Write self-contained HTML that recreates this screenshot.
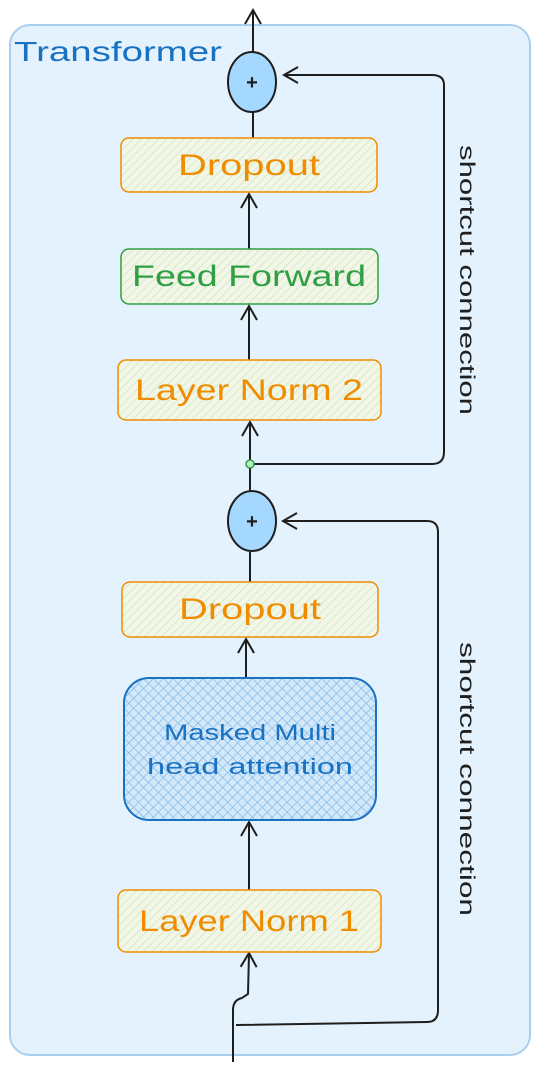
<!DOCTYPE html>
<html><head><meta charset="utf-8"><style>
html,body{margin:0;padding:0;background:#fff;width:540px;height:1070px;overflow:hidden}
text{font-family:"Liberation Sans",sans-serif}
</style></head><body>
<svg width="540" height="1070" viewBox="0 0 540 1070" xmlns="http://www.w3.org/2000/svg">
<defs>
<pattern id="hg" width="6" height="6" patternUnits="userSpaceOnUse" patternTransform="rotate(45)">
<rect width="6" height="6" fill="#f3f6e6"/><line x1="0" y1="0" x2="0" y2="6" stroke="#c6e8c2" stroke-width="1.5"/></pattern>
<pattern id="hb" width="7" height="7" patternUnits="userSpaceOnUse" patternTransform="rotate(45)">
<rect width="7" height="7" fill="#d3e8f8"/><line x1="0" y1="0" x2="0" y2="7" stroke="#74b3ea" stroke-width="1.2"/><line x1="0" y1="0" x2="7" y2="0" stroke="#74b3ea" stroke-width="1.2"/></pattern>
<marker id="ar" markerWidth="20" markerHeight="20" refX="15" refY="10" orient="auto" markerUnits="userSpaceOnUse">
<path d="M1,2 L15,10 L1,18" fill="none" stroke="#1e1e1e" stroke-width="2"/></marker>
</defs>
<rect x="10" y="25" width="520" height="1030" rx="20" fill="#e3f2fc" stroke="#a8cff0" stroke-width="2"/>
<text x="14" y="61" font-size="28" fill="#1971c2" textLength="208" lengthAdjust="spacingAndGlyphs">Transformer</text>

<g stroke="#1e1e1e" stroke-width="2" fill="none">
<line x1="253" y1="52" x2="253" y2="10" marker-end="url(#ar)"/>
<line x1="253" y1="138" x2="253" y2="112"/>
<line x1="249" y1="249" x2="249" y2="194" marker-end="url(#ar)"/>
<line x1="249" y1="360" x2="249" y2="306" marker-end="url(#ar)"/>
<line x1="250" y1="464" x2="250" y2="422" marker-end="url(#ar)"/>
<line x1="250" y1="490" x2="250" y2="466"/>
<line x1="250" y1="582" x2="250" y2="552"/>
<line x1="246" y1="678" x2="246" y2="639" marker-end="url(#ar)"/>
<line x1="249" y1="890" x2="249" y2="822" marker-end="url(#ar)"/>
<path d="M233,1062 L233,1010 Q233,1000 242,998 L248,994 L249,953" marker-end="url(#ar)"/>
<path d="M250,464 L432,464 Q444,464 444,452 L444,85 Q444,75 432,75 L284,75" marker-end="url(#ar)"/>
<path d="M236,1025 L427,1022 Q438,1022 438,1010 L438,532 Q438,521 427,521 L283,521" marker-end="url(#ar)"/>
</g>
<ellipse cx="252" cy="82" rx="24" ry="30" fill="#a5d8ff" stroke="#1e1e1e" stroke-width="2"/>
<text x="252" y="89" font-size="20" font-weight="bold" text-anchor="middle" fill="#1e1e1e">+</text>
<ellipse cx="252" cy="521" rx="24" ry="30" fill="#a5d8ff" stroke="#1e1e1e" stroke-width="2"/>
<text x="252" y="528" font-size="20" font-weight="bold" text-anchor="middle" fill="#1e1e1e">+</text>
<circle cx="250" cy="464" r="4" fill="#b2f2bb" stroke="#2f9e44" stroke-width="1.5"/>

<rect x="121" y="138" width="256" height="54" rx="8" fill="url(#hg)" stroke="#f08c00" stroke-width="1.5"/>
<text x="249" y="175" font-size="30" text-anchor="middle" fill="#f08c00" textLength="142" lengthAdjust="spacingAndGlyphs">Dropout</text>
<rect x="121" y="249" width="257" height="55" rx="8" fill="url(#hg)" stroke="#2f9e44" stroke-width="1.5"/>
<text x="249" y="286" font-size="30" text-anchor="middle" fill="#2f9e44" textLength="234" lengthAdjust="spacingAndGlyphs">Feed Forward</text>
<rect x="118" y="360" width="263" height="60" rx="8" fill="url(#hg)" stroke="#f08c00" stroke-width="1.5"/>
<text x="249" y="400" font-size="30" text-anchor="middle" fill="#f08c00" textLength="228" lengthAdjust="spacingAndGlyphs">Layer Norm 2</text>
<rect x="122" y="582" width="256" height="55" rx="8" fill="url(#hg)" stroke="#f08c00" stroke-width="1.5"/>
<text x="250" y="619" font-size="30" text-anchor="middle" fill="#f08c00" textLength="142" lengthAdjust="spacingAndGlyphs">Dropout</text>
<rect x="124" y="678" width="252" height="142" rx="25" fill="url(#hb)" stroke="#1971c2" stroke-width="2"/>
<text x="250" y="740" font-size="22" text-anchor="middle" fill="#1971c2" textLength="172" lengthAdjust="spacingAndGlyphs">Masked Multi</text>
<text x="250" y="774" font-size="22" text-anchor="middle" fill="#1971c2" textLength="206" lengthAdjust="spacingAndGlyphs">head attention</text>
<rect x="118" y="890" width="263" height="62" rx="8" fill="url(#hg)" stroke="#f08c00" stroke-width="1.5"/>
<text x="249" y="931" font-size="30" text-anchor="middle" fill="#f08c00" textLength="220" lengthAdjust="spacingAndGlyphs">Layer Norm 1</text>

<text transform="translate(460,145) rotate(90)" font-size="21" fill="#1e1e1e" textLength="270" lengthAdjust="spacingAndGlyphs">shortcut connection</text>
<text transform="translate(460,642) rotate(90)" font-size="21" fill="#1e1e1e" textLength="274" lengthAdjust="spacingAndGlyphs">shortcut connection</text>
</svg>
</body></html>
